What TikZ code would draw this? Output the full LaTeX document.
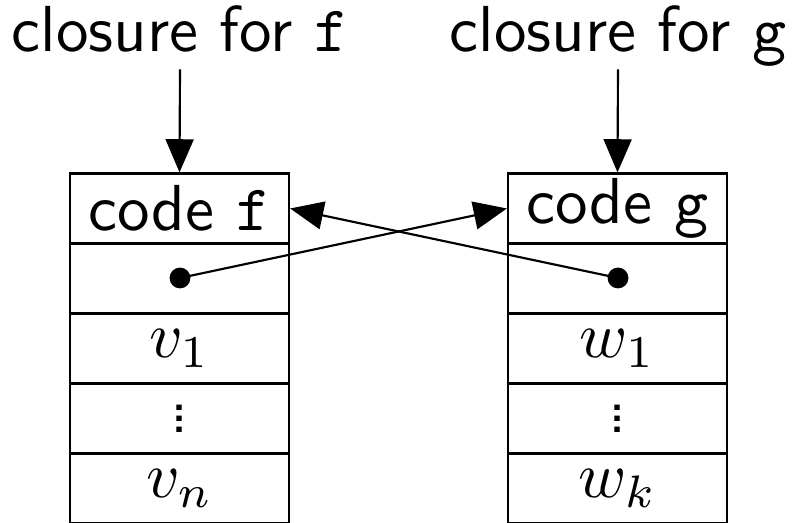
\documentclass[tikz,border=0pt]{standalone}
\usetikzlibrary{arrows.meta}
% three stacked dots for an elided run of cells
\newcommand\celldots{\vbox{\baselineskip=1.7pt\lineskiplimit=-10pt\hbox{.}\hbox{.}\hbox{.}}}
\begin{document}
\begin{tikzpicture}[x=0.1538pt,y=-0.1538pt,
  every node/.style={font=\sffamily},
  lbl/.style={anchor=base,text height=7pt,text depth=2.3pt,inner ysep=0.16pt},
  cell/.style={draw,line width=0.33pt,minimum width=33.7pt,minimum height=10.77pt,inner sep=0pt},
  ptr/.style={-{Triangle[length=5.1pt,width=4.3pt]},line width=0.33pt},
  blob/.style={circle,fill,inner sep=0pt,minimum size=3.2pt}]
\useasboundingbox (0,0) rectangle (792,523);
% closure for f
\node[lbl] (lf) at (180,52) {closure for \texttt{f}};
\node[cell] (cf) at (179.5,208.5) {code \texttt{f}};
\node[cell] (ef) at (179.5,278.5) {};
\node[cell] (v1) at (179.5,348.5) {$v_1$};
\node[cell] (df) at (179.5,418.5) {\celldots};
\node[cell] (vn) at (179.5,488.5) {$v_n$};
\node[blob] (pf) at (180,278) {};
% closure for g
\node[lbl] (lg) at (618,52) {closure for \texttt{g}};
\node[cell] (cg) at (617.5,208.5) {code \texttt{g}};
\node[cell] (eg) at (617.5,278.5) {};
\node[cell] (w1) at (617.5,348.5) {$w_1$};
\node[cell] (dg) at (617.5,418.5) {\celldots};
\node[cell] (wk) at (617.5,488.5) {$w_k$};
\node[blob] (pg) at (618,278) {};
% pointers
\draw[ptr] (lf.south) -- (cf.north);
\draw[ptr] (lg.south) -- (cg.north);
\draw[ptr] (pf.center) -- (cg.west);
\draw[ptr] (pg.center) -- (cf.east);
\end{tikzpicture}
\end{document}
